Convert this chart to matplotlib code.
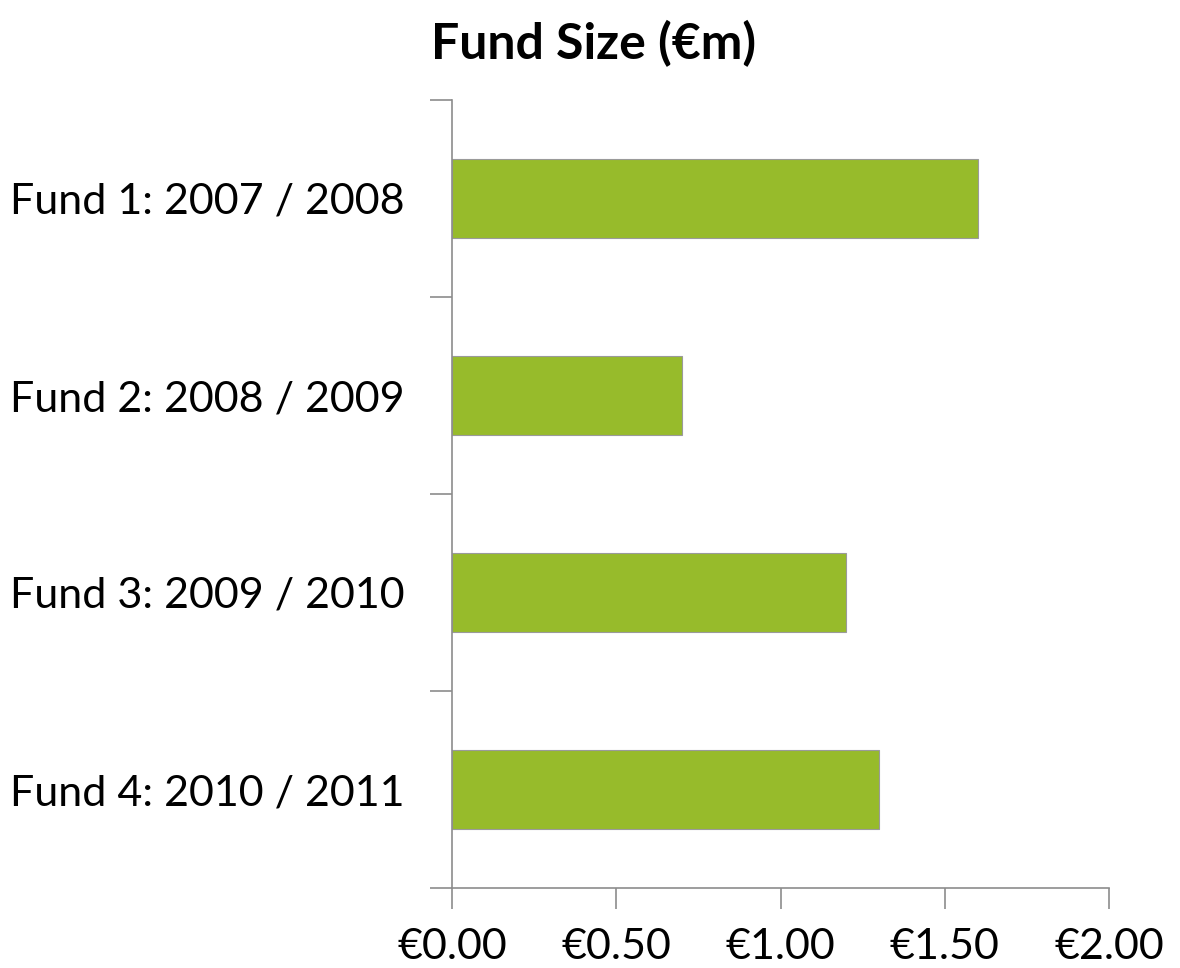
import matplotlib.pyplot as plt
import numpy as np
from matplotlib.ticker import FuncFormatter

# data
funds = ['Fund 1: 2007 / 2008', 'Fund 2: 2008 / 2009',
         'Fund 3: 2009 / 2010', 'Fund 4: 2010 / 2011']
fund_size = [1.6, 0.7, 1.2, 1.3]
x_ticks = [0.0, 0.5, 1.0, 1.5, 2.0]

plt.rcParams['font.family'] = ['Lato', 'DejaVu Sans']
axis_grey = '#8c8c8c'

fig = plt.figure(figsize=(11.8, 9.68), dpi=100)
ax = fig.add_axes([452 / 1180, 1 - 888 / 968, (1109 - 452) / 1180, (888 - 100) / 968])

pos = np.arange(len(funds))
ax.barh(pos, fund_size, height=0.4, color='#97bb2b', edgecolor='#9a9a9a', linewidth=0.8)

ax.set_xlim(0, 2)
ax.set_ylim(len(funds) - 0.5, -0.5)

ax.set_xticks(x_ticks)
ax.xaxis.set_major_formatter(FuncFormatter(lambda v, p: '€%.2f' % v))
ax.set_yticks(pos)
ax.set_yticklabels(funds)
ax.set_yticks(np.arange(len(funds) + 1) - 0.5, minor=True)

ax.tick_params(axis='y', which='major', length=0, pad=34, labelsize=31)
ax.tick_params(axis='y', which='minor', length=16, width=1.2, color=axis_grey, direction='out')
ax.tick_params(axis='x', length=15, width=1.2, color=axis_grey, direction='out', pad=14, labelsize=31)

for side in ['top', 'right']:
    ax.spines[side].set_visible(False)
for side in ['left', 'bottom']:
    ax.spines[side].set_color(axis_grey)
    ax.spines[side].set_linewidth(1.2)

fig.text(0.503, 1 - 44 / 968, 'Fund Size (€m)', ha='center', va='center',
         fontsize=36, fontweight='bold')

fig.savefig('out.png', dpi=100)
